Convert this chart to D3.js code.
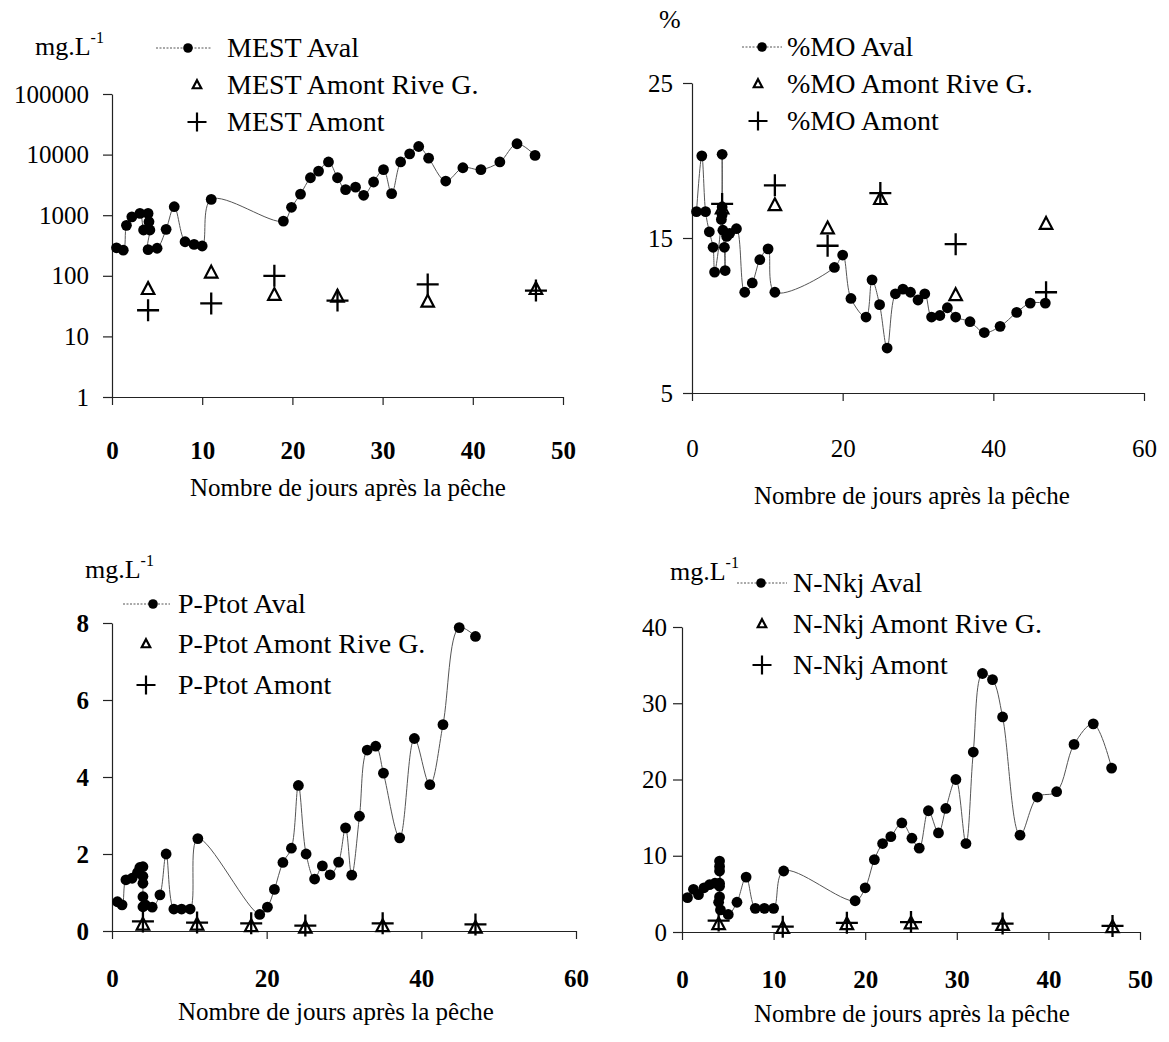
<!DOCTYPE html>
<html><head><meta charset="utf-8">
<script src="https://cdn.jsdelivr.net/npm/d3@7"></script>
<style>
body{margin:0;background:#fff}
svg text{font-family:"Liberation Serif","Times New Roman",serif;fill:#000}
</style>
</head><body>
<svg id="c" width="1169" height="1042"></svg>
<script>
// ---------- DATA ----------
const amontDays = [4, 11, 18, 25, 35, 47];

const mestAvalDays = [0.5,1.25,1.6,2.2,3.1,3.5,4.0,4.1,4.2,4.0,5.0,6.0,6.9,8.1,9.1,10.0,11.0,19.0,19.9,20.9,22.0,22.9,24.0,25.0,25.9,27.0,27.9,29.0,30.1,31.0,32.0,33.0,34.0,35.1,37.0,38.9,40.9,43.0,44.9,46.9];
const mestAvalValues = [290,265,680,940,1070,570,1070,780,570,270,285,585,1380,365,330,310,1820,800,1350,2230,4150,5350,7560,4150,2640,2900,2130,3530,5640,2270,7560,10300,13600,8730,3660,6070,5640,7560,15100,9700];
const mestRiveGValues = [60,112,48,45,37,60];
const mestAmontValues = [27,35,100,39,72,57];

const moAvalDays = [0.6,1.3,1.8,2.3,2.8,3.0,3.9,4.0,4.0,4.0,4.1,4.3,4.4,4.6,5.0,5.9,7.0,8.0,9.0,10.1,11.0,18.9,20.0,21.1,23.1,23.9,24.9,25.9,27.0,28.0,29.0,30.0,30.9,31.8,32.9,33.9,35.0,36.9,38.8,40.9,43.1,44.9,46.9];
const moAvalValues = [16.7,20.3,16.7,15.4,14.4,12.8,16.2,20.4,17.0,16.5,15.5,14.4,12.9,15.1,15.3,15.6,11.5,12.1,13.6,14.3,11.5,13.1,13.9,11.1,9.9,12.3,10.7,7.9,11.4,11.7,11.5,11.0,11.4,9.9,10.0,10.5,9.9,9.6,8.9,9.3,10.2,10.8,10.8];
const moRiveGValues = [16.9,17.1,15.6,17.5,11.3,15.9];
const moAmontValues = [17.2,18.4,14.5,17.9,14.6,11.5];

const pAvalDays = [0.7,1.3,1.8,2.6,3.3,3.6,4.0,4.0,4.0,4.0,4.0,4.3,5.2,6.2,7.0,8.0,9.0,10.1,11.1,19.1,20.1,21.0,22.1,23.2,24.1,25.1,26.2,27.2,28.2,29.3,30.2,31.0,32.0,33.0,34.1,35.1,37.2,39.1,41.1,42.8,44.9,47.0];
const pAvalValues = [0.76,0.68,1.33,1.37,1.52,1.65,1.67,1.42,1.24,0.89,0.63,0.68,0.62,0.94,2.0,0.57,0.57,0.57,2.4,0.43,0.62,1.08,1.78,2.15,3.78,2.0,1.35,1.69,1.46,1.79,2.68,1.45,2.98,4.7,4.8,4.1,2.42,5.0,3.8,5.36,7.88,7.65];
const pRiveGValues = [0.16,0.16,0.12,0.08,0.12,0.08];
const pAmontValues = [0.25,0.22,0.2,0.14,0.2,0.17];

const nAvalDays = [0.6,1.25,1.8,2.4,3.0,3.6,4.1,4.1,4.1,4.1,4.1,4.1,4.0,4.2,5.05,6.0,7.0,8.0,9.0,10.0,11.1,18.9,20.0,21.0,21.9,22.8,24.0,25.1,25.9,26.9,28.0,28.8,29.9,31.0,31.8,32.8,33.9,35.0,36.9,38.8,40.9,42.8,44.9,46.9];
const nAvalValues = [4.5,5.6,4.9,5.8,6.2,6.4,6.4,9.3,8.6,8.0,6.0,4.6,3.9,2.9,2.3,3.9,7.2,3.1,3.1,3.1,8.0,4.1,5.8,9.5,11.6,12.5,14.3,12.3,11.0,15.9,13.0,16.2,20.0,11.6,23.6,33.9,33.1,28.2,12.7,17.7,18.4,24.6,27.3,21.5];
const nRiveGValues = [1.0,0.5,1.0,1.1,0.9,0.6];
const nAmontValues = [1.5,0.7,1.2,1.3,1.1,0.8];

const xTicks50 = [0,10,20,30,40,50];
const xTicks60 = [0,20,40,60];
const mestYTicks = [1,10,100,1000,10000,100000];
const moYTicks = [5,15,25];
const pYTicks = [0,2,4,6,8];
const nYTicks = [0,10,20,30,40];
const axisTitle = "Nombre de jours après la pêche";

// ---------- DRAWING ----------
const svg = d3.select("#c");
const FS = 25, LFS = 28;

function trianglePath(s){ const h=s*0.95; return `M0,${-h*0.6}L${s/2},${h*0.4}L${-s/2},${h*0.4}Z`; }
function plusPath(s){ return `M${-s/2},0H${s/2}M0,${-s/2}V${s/2}`; }

function drawPanel(p){
  const g = svg.append("g");
  const x = d3.scaleLinear().domain(p.xDomain).range([p.left, p.right]);
  const y = (p.log ? d3.scaleLog() : d3.scaleLinear()).domain(p.yDomain).range([p.bottom, p.top]);

  const gx = g.append("g").attr("transform", `translate(0,${p.bottom})`)
    .call(d3.axisBottom(x).tickValues(p.xTicks).tickSize(8).tickSizeOuter(0).tickPadding(p.xPad).tickFormat(d => String(d)));
  const gy = g.append("g").attr("transform", `translate(${p.left},0)`)
    .call(d3.axisLeft(y).tickValues(p.yTicks).tickSize(9).tickSizeOuter(0).tickPadding(p.yPad).tickFormat(d => String(d)));
  [gx, gy].forEach(a => {
    a.select(".domain").attr("stroke", "#222").attr("stroke-width", 1.2);
    a.selectAll(".tick line").attr("stroke", "#222").attr("stroke-width", 1.2);
    a.selectAll("text").attr("font-size", FS).attr("font-family", '"Liberation Serif",serif').attr("fill", "#000");
  });
  gx.selectAll("text").attr("font-weight", p.xBold ? "bold" : "normal");
  gy.selectAll("text").attr("font-weight", p.yBold ? "bold" : "normal");

  // Aval smoothed line + dots
  const aval = d3.zip(p.avalDays, p.avalValues);
  const line = d3.line().x(d => x(d[0])).y(d => y(d[1])).curve(d3.curveCatmullRom.alpha(0.5));
  g.append("path").datum(aval).attr("d", line).attr("fill", "none").attr("stroke", "#555").attr("stroke-width", 1);
  g.selectAll("circle.aval").data(aval).join("circle").attr("class", "aval")
    .attr("cx", d => x(d[0])).attr("cy", d => y(d[1])).attr("r", 5.4).attr("fill", "#000");

  // Amont Rive G. triangles
  g.selectAll("path.tri").data(d3.zip(amontDays, p.riveG)).join("path").attr("class", "tri")
    .attr("transform", d => `translate(${x(d[0])},${y(d[1])})`).attr("d", trianglePath(12.5))
    .attr("fill", "none").attr("stroke", "#000").attr("stroke-width", 2.2);
  // Amont plus
  g.selectAll("path.plus").data(d3.zip(amontDays, p.amont)).join("path").attr("class", "plus")
    .attr("transform", d => `translate(${x(d[0])},${y(d[1])})`).attr("d", plusPath(22))
    .attr("fill", "none").attr("stroke", "#000").attr("stroke-width", 2.3);

  // units
  const u = g.append("text").attr("x", p.unitX).attr("y", p.unitY).attr("font-size", 26);
  u.append("tspan").text(p.unit);
  if (p.unitSup) u.append("tspan").attr("font-size", 16).attr("dy", -12).text(p.unitSup);

  // legend
  const L = p.legend;
  const rows = [p.name + " Aval", p.name + " Amont Rive G.", p.name + " Amont"];
  rows.forEach((t, i) => {
    g.append("text").attr("x", L.textX).attr("y", L.rows[i]).attr("font-size", LFS).text(t);
  });
  const cy0 = L.rows[0] - 9;
  g.append("line").attr("x1", L.lineX0).attr("x2", L.lineX1).attr("y1", cy0).attr("y2", cy0)
    .attr("stroke", "#555").attr("stroke-width", 1).attr("stroke-dasharray", "2,1.5");
  g.append("circle").attr("cx", L.dotX).attr("cy", cy0).attr("r", 4.8).attr("fill", "#000");
  g.append("path").attr("transform", `translate(${L.symX},${L.rows[1] - 9})`).attr("d", trianglePath(8.5))
    .attr("fill", "none").attr("stroke", "#000").attr("stroke-width", 2.2);
  g.append("path").attr("transform", `translate(${L.symX},${L.rows[2] - 9})`).attr("d", plusPath(19))
    .attr("stroke", "#000").attr("stroke-width", 2.2);

  // axis title
  g.append("text").attr("x", p.titleX).attr("y", p.titleY).attr("text-anchor", "middle")
    .attr("font-size", FS).text(axisTitle);
}

drawPanel({
  name: "MEST", left: 112, right: 563, top: 94, bottom: 397,
  xDomain: [0, 50], xTicks: xTicks50, log: true, yDomain: [1, 100000], yTicks: mestYTicks,
  xPad: 36, yPad: 14, xBold: true, yBold: false,
  avalDays: mestAvalDays, avalValues: mestAvalValues, riveG: mestRiveGValues, amont: mestAmontValues,
  unit: "mg.L", unitSup: "-1", unitX: 35, unitY: 55,
  legend: { rows: [57, 94, 131], textX: 227, lineX0: 156, lineX1: 212, dotX: 188, symX: 197 },
  titleX: 348, titleY: 496
});
drawPanel({
  name: "%MO", left: 692, right: 1144, top: 83, bottom: 393,
  xDomain: [0, 60], xTicks: xTicks60, log: false, yDomain: [5, 25], yTicks: moYTicks,
  xPad: 38, yPad: 10, xBold: false, yBold: false,
  avalDays: moAvalDays, avalValues: moAvalValues, riveG: moRiveGValues, amont: moAmontValues,
  unit: "%", unitSup: null, unitX: 659, unitY: 28,
  legend: { rows: [56, 93, 130], textX: 787, lineX0: 742, lineX1: 782, dotX: 762, symX: 758 },
  titleX: 912, titleY: 504
});
drawPanel({
  name: "P-Ptot", left: 112, right: 576, top: 623, bottom: 931,
  xDomain: [0, 60], xTicks: xTicks60, log: false, yDomain: [0, 8], yTicks: pYTicks,
  xPad: 30, yPad: 14, xBold: true, yBold: true,
  avalDays: pAvalDays, avalValues: pAvalValues, riveG: pRiveGValues, amont: pAmontValues,
  unit: "mg.L", unitSup: "-1", unitX: 85, unitY: 578,
  legend: { rows: [613, 653, 694], textX: 178, lineX0: 123, lineX1: 170, dotX: 153, symX: 146 },
  titleX: 336, titleY: 1020
});
drawPanel({
  name: "N-Nkj", left: 682, right: 1140, top: 627, bottom: 932,
  xDomain: [0, 50], xTicks: xTicks50, log: false, yDomain: [0, 40], yTicks: nYTicks,
  xPad: 30, yPad: 6, xBold: true, yBold: false,
  avalDays: nAvalDays, avalValues: nAvalValues, riveG: nRiveGValues, amont: nAmontValues,
  unit: "mg.L", unitSup: "-1", unitX: 670, unitY: 580,
  legend: { rows: [592, 633, 674], textX: 793, lineX0: 737, lineX1: 787, dotX: 761, symX: 762 },
  titleX: 912, titleY: 1022
});
</script>
</body></html>
